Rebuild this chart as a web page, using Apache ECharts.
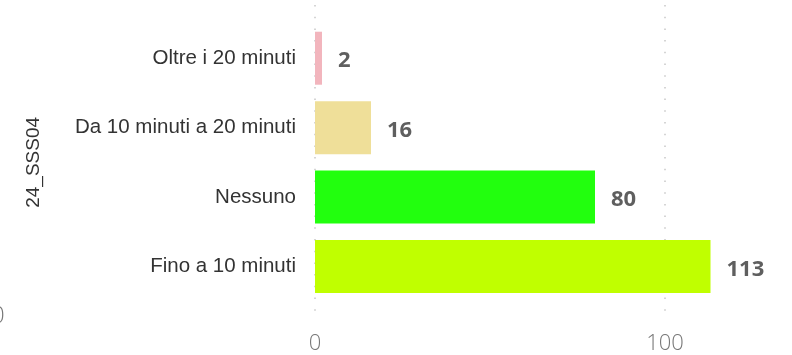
<!DOCTYPE html>
<html>
<head>
<meta charset="utf-8">
<script src="https://cdn.jsdelivr.net/npm/echarts@6/dist/echarts.min.js"></script>
<style>
  html, body { margin: 0; padding: 0; background: #fff; }
  #chart { width: 792px; height: 355px; }
</style>
</head>
<body>
<div id="chart"></div>
<script>
// Categories from top to bottom
const categories = ['Oltre i 20 minuti', 'Da 10 minuti a 20 minuti', 'Nessuno', 'Fino a 10 minuti'];
const counts = [2, 16, 80, 113];
const barColors = ['#f2b5bd', '#efdf99', '#22ff0e', '#c0ff00'];
const axisTitle = '24_SSS04';
const xMax = 134;
const xStep = 100;

const chart = echarts.init(document.getElementById('chart'), null, { renderer: 'canvas' });

const seriesData = counts.map((v, i) => ({ value: v, itemStyle: { color: barColors[i] } }));

// same scale in both frames: 3.5 px per unit starting at x = 315
const left = 315;
const pxPerUnit = 3.5;

chart.setOption({
  animation: false,
  grid: [
    // frame carrying the dotted gridlines and the tick labels (0..100)
    { left: left, width: xStep * pxPerUnit, top: 5, height: 318, containLabel: false },
    // frame holding the bars (0..xMax)
    { left: left, width: xMax * pxPerUnit, top: 23.5, height: 277.7, containLabel: false }
  ],
  xAxis: [
    {
      gridIndex: 0, type: 'value', min: 0, max: xStep, interval: xStep,
      axisLine: { show: false }, axisTick: { show: false },
      axisLabel: {
        margin: 12,
        fontFamily: 'Open Sans', fontWeight: 300, fontSize: 22, color: '#777'
      },
      splitLine: { show: true, lineStyle: { color: '#c8c8c8', width: 1.5, type: [1.5, 10.2] } }
    },
    {
      gridIndex: 1, type: 'value', min: 0, max: xMax, interval: xStep,
      show: false, splitLine: { show: false }
    }
  ],
  yAxis: [
    {
      gridIndex: 0, type: 'category', data: categories, show: false
    },
    {
      gridIndex: 1, type: 'category', data: categories, inverse: true,
      axisLine: { show: false }, axisTick: { show: false },
      axisLabel: {
        margin: 19, fontFamily: 'Liberation Sans', fontSize: 20.5, color: '#333',
        padding: [4, 0, 0, 0]
      },
      name: axisTitle, nameLocation: 'middle', nameGap: 272, nameRotate: 90,
      nameTextStyle: { fontFamily: 'Liberation Sans', fontSize: 19, color: '#333' }
    }
  ],
  series: [{
    type: 'bar',
    xAxisIndex: 1, yAxisIndex: 1,
    data: seriesData,
    barWidth: 53,
    label: {
      show: true, position: 'right', distance: 16, offset: [0, 3],
      fontFamily: 'Open Sans', fontWeight: 'bold', fontSize: 22, color: '#5f5f5f'
    }
  }],
  graphic: [{
    type: 'text', left: -9, top: 304,
    style: { text: '0', fontFamily: 'Open Sans', fontWeight: 300, fontSize: 24, fill: '#777' }
  }]
});
</script>
</body>
</html>
